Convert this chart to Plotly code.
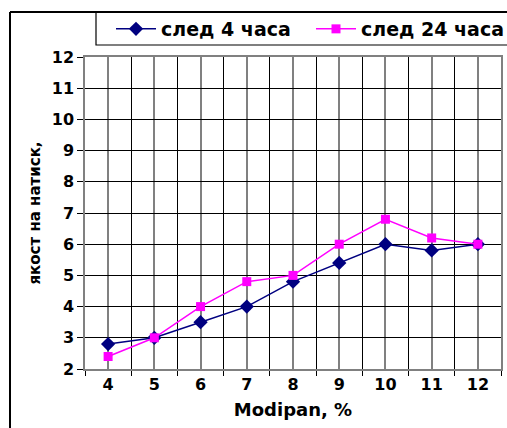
import plotly.graph_objects as go

modipan = [4, 5, 6, 7, 8, 9, 10, 11, 12]
after_4h = [2.8, 3.0, 3.5, 4.0, 4.8, 5.4, 6.0, 5.8, 6.0]
after_24h = [2.4, 3.0, 4.0, 4.8, 5.0, 6.0, 6.8, 6.2, 6.0]
y_ticks = list(range(2, 13))

FONT = "DejaVu Sans, Arial, sans-serif"
BOLD = dict(family=FONT, size=16, color="black", weight="bold")
LEG = dict(family=FONT, size=19, color="black", weight="bold")

L, R, T, B = 85, 6, 57, 59
W, H = 507, 428
pw, ph = W - L - R, H - T - B

def px2x(px):
    return (px - L) / pw

def py2y(py):
    return (H - B - py) / ph

fig = go.Figure()
fig.add_trace(go.Scatter(
    x=modipan, y=after_4h, name="след 4 часа", mode="lines+markers",
    line=dict(color="#000080", width=1.5),
    marker=dict(symbol="diamond", size=11, color="#000080"),
    legend="legend",
))
fig.add_trace(go.Scatter(
    x=modipan, y=after_24h, name="след 24 часа", mode="lines+markers",
    line=dict(color="#FF00FF", width=1.5),
    marker=dict(symbol="square", size=9, color="#FF00FF"),
    legend="legend2",
))

fig.update_layout(
    width=W, height=H,
    margin=dict(l=L, r=R, t=T, b=B, autoexpand=False),
    paper_bgcolor="white", plot_bgcolor="white",
    font=BOLD,
    showlegend=True,
    legend=dict(
        orientation="h", x=px2x(111), y=py2y(29), xanchor="left", yanchor="middle",
        borderwidth=0, bgcolor="rgba(0,0,0,0)", font=LEG, itemwidth=40,
    ),
    legend2=dict(
        orientation="h", x=px2x(311), y=py2y(29), xanchor="left", yanchor="middle",
        borderwidth=0, bgcolor="rgba(0,0,0,0)", font=LEG, itemwidth=40,
    ),
    xaxis=dict(
        range=[3.5, 12.5], tickmode="array", tickvals=modipan,
        ticktext=[str(v) for v in modipan], automargin=False,
        showgrid=True, gridcolor="#808080", gridwidth=1.5,
        ticks="", showline=True, linecolor="#808080", linewidth=1.5, mirror=True,
        tickfont=BOLD,
        minor=dict(tickmode="linear", tick0=3.5, dtick=1, showgrid=True, gridcolor="black",
                   gridwidth=1, ticks="outside", ticklen=5, tickcolor="black"),
        title=dict(text="Modipan, %", font=dict(family=FONT, size=18, color="black", weight="bold"), standoff=10),
        zeroline=False,
    ),
    yaxis=dict(
        range=[2, 12], tickmode="array", tickvals=y_ticks, automargin=False,
        showgrid=True, gridcolor="black", gridwidth=1,
        ticks="outside", ticklen=6, tickcolor="black",
        showline=True, linecolor="#808080", linewidth=1.5, mirror=True,
        tickfont=BOLD,
        title=dict(text="якост на натиск,", font=dict(family=FONT, size=15, color="black", weight="bold"), standoff=8),
        zeroline=False,
    ),
    shapes=[
        dict(type="line", xref="paper", yref="paper", x0=px2x(10), x1=px2x(10), y0=py2y(430), y1=py2y(12),
             line=dict(color="black", width=2)),
        dict(type="line", xref="paper", yref="paper", x0=px2x(10), x1=px2x(510), y0=py2y(12), y1=py2y(12),
             line=dict(color="black", width=2)),
        dict(type="rect", xref="paper", yref="paper", x0=px2x(96), x1=px2x(512), y0=py2y(45), y1=py2y(12),
             line=dict(color="black", width=1.2), fillcolor="white", layer="below"),
    ],
)

fig.write_html("out.html", post_script="document.body.style.margin='0';",
               config={"displayModeBar": False})
